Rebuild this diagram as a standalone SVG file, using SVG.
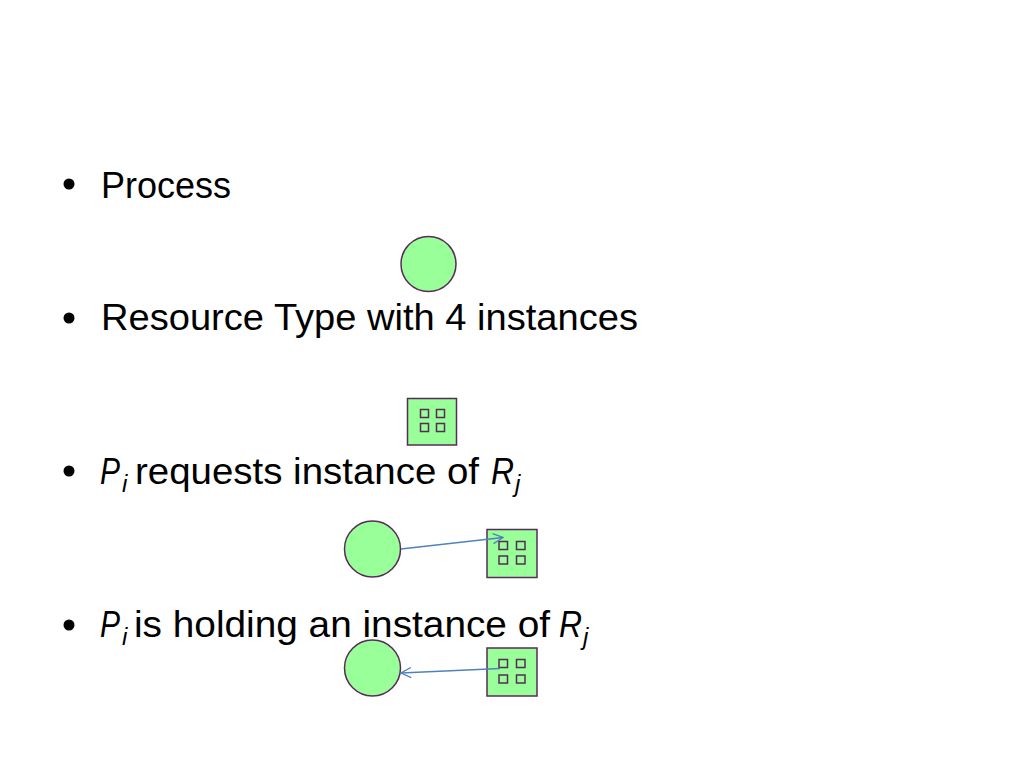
<svg xmlns="http://www.w3.org/2000/svg" width="1024" height="768" viewBox="0 0 1024 768">
<style>
.t{font-family:"Liberation Sans",Arial,sans-serif;font-size:36px;fill:#000}
.it{font-style:italic}
.sub{font-size:24px;font-style:italic}
.node{fill:#99FF99;stroke:#5A2A5A;stroke-width:1.5}
.inst{fill:none;stroke:#5A2A5A;stroke-width:1.5}
.edge{fill:none;stroke:#4F81BD;stroke-width:1.3;marker-end:url(#ah)}
</style>
<defs>
<marker id="ah" viewBox="0 0 12 12" refX="11" refY="6" markerWidth="12" markerHeight="12" markerUnits="userSpaceOnUse" orient="auto">
<path d="M1,1 L11,6 L1,11" fill="none" stroke="#4F81BD" stroke-width="1.3"/>
</marker>
</defs>
<rect width="1024" height="768" fill="#fff"/>
<g id="text">
<circle cx="69" cy="184" r="5.5" fill="#000"/>
<text class="t" x="101" y="198" textLength="130" lengthAdjust="spacingAndGlyphs">Process</text>
<circle cx="69" cy="318" r="5.5" fill="#000"/>
<text class="t" x="101" y="330" textLength="537" lengthAdjust="spacingAndGlyphs">Resource Type with 4 instances</text>
<circle cx="69" cy="471" r="5.5" fill="#000"/>
<text class="t" y="484"><tspan class="it" x="100" textLength="20" lengthAdjust="spacingAndGlyphs">P</tspan><tspan class="sub" x="122" y="492">i</tspan><tspan x="135" y="484" textLength="344" lengthAdjust="spacingAndGlyphs">requests instance of</tspan><tspan class="it" x="491" textLength="23" lengthAdjust="spacingAndGlyphs">R</tspan><tspan class="sub" x="515" y="492">j</tspan></text>
<circle cx="69" cy="625" r="5.5" fill="#000"/>
<text class="t" y="637"><tspan class="it" x="100" textLength="20" lengthAdjust="spacingAndGlyphs">P</tspan><tspan class="sub" x="122" y="645">i</tspan><tspan x="134" y="637" textLength="416" lengthAdjust="spacingAndGlyphs">is holding an instance of</tspan><tspan class="it" x="559" textLength="23" lengthAdjust="spacingAndGlyphs">R</tspan><tspan class="sub" x="583" y="645">j</tspan></text>
</g>
<g id="process1"><circle class="node" cx="428.5" cy="264" r="27.5"/></g>
<g id="resource1">
<rect class="node" x="407.5" y="398.5" width="49" height="46.5"/>
<rect class="inst" x="420.5" y="409.5" width="8" height="8"/>
<rect class="inst" x="436.5" y="409.5" width="8" height="8"/>
<rect class="inst" x="420.5" y="423.5" width="8" height="8"/>
<rect class="inst" x="436.5" y="423.5" width="8" height="8"/>
</g>
<g id="process2"><circle class="node" cx="372.5" cy="549" r="28"/></g>
<g id="resource2">
<rect class="node" x="487" y="529.5" width="50" height="48"/>
<rect class="inst" x="499" y="541.5" width="8.5" height="8"/>
<rect class="inst" x="516.5" y="541.5" width="8.5" height="8"/>
<rect class="inst" x="499" y="556" width="8.5" height="8"/>
<rect class="inst" x="516.5" y="556" width="8.5" height="8"/>
</g>
<g id="process3"><circle class="node" cx="372.5" cy="668" r="28"/></g>
<g id="resource3">
<rect class="node" x="487" y="648" width="50" height="48"/>
<rect class="inst" x="499" y="659.5" width="8.5" height="8"/>
<rect class="inst" x="516.5" y="659.5" width="8.5" height="8"/>
<rect class="inst" x="499" y="675" width="8.5" height="8"/>
<rect class="inst" x="516.5" y="675" width="8.5" height="8"/>
</g>
<g id="connectors">
<line class="edge" x1="401" y1="549" x2="503" y2="537.5"/>
<line class="edge" x1="500" y1="668.5" x2="401" y2="673"/>
</g>
</svg>
